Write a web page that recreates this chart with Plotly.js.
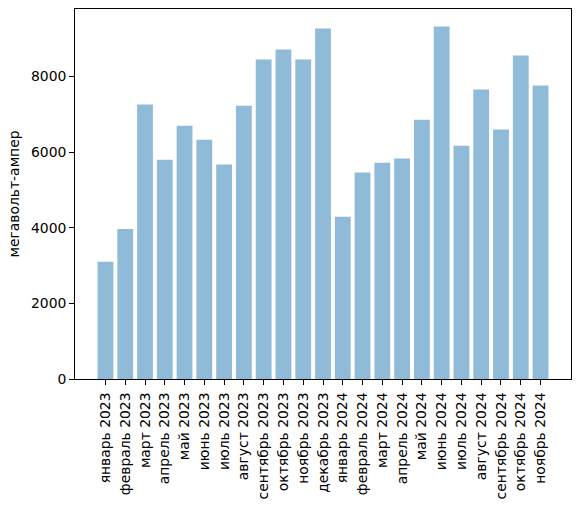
<!DOCTYPE html>
<html>
<head>
<meta charset="utf-8">
<script src="https://cdn.plot.ly/plotly-3.0.1.min.js"></script>
<style>
  html, body { margin: 0; padding: 0; background: #fff; }
  #chart { width: 580px; height: 506px; }
</style>
</head>
<body>
<div id="chart"></div>
<script>
// months, Jan 2023 .. Nov 2024
const months = [
    'январь 2023', 'февраль 2023', 'март 2023', 'апрель 2023', 'май 2023', 'июнь 2023',
    'июль 2023', 'август 2023', 'сентябрь 2023', 'октябрь 2023', 'ноябрь 2023', 'декабрь 2023',
    'январь 2024', 'февраль 2024', 'март 2024', 'апрель 2024', 'май 2024', 'июнь 2024',
    'июль 2024', 'август 2024', 'сентябрь 2024', 'октябрь 2024', 'ноябрь 2024'
];
const power = [
    3100, 3970, 7260, 5800, 6700, 6330,
    5670, 7230, 8450, 8715, 8450, 9270,
    4290, 5460, 5720, 5830, 6860, 9320,
    6170, 7655, 6600, 8555, 7760
];
const yTicks = [0, 2000, 4000, 6000, 8000];
const yLabel = 'мегавольт-ампер';

window.onload = main;

function main() {
    const font = { family: 'DejaVu Sans, sans-serif', size: 13.9, color: '#000' };

    const trace = {
        type: 'bar',
        x: months,
        y: power,
        marker: { color: 'rgba(31,119,180,0.5)', line: { width: 0 } },
        hoverinfo: 'x+y'
    };

    const axisCommon = {
        showline: true,
        linecolor: '#000',
        linewidth: 1,
        mirror: true,
        ticks: 'outside',
        ticklen: 4.9,
        tickwidth: 1,
        tickcolor: '#000',
        showgrid: false,
        zeroline: false,
        tickfont: font
    };

    const layout = {
        width: 580,
        height: 506,
        margin: { l: 75, r: 9, t: 9, b: 127 },
        paper_bgcolor: '#fff',
        plot_bgcolor: '#fff',
        font: font,
        bargap: 0.2,
        showlegend: false,
        xaxis: Object.assign({}, axisCommon, {
            type: 'category',
            range: [-1.54, 22.0 + 1.54],
            tickangle: -90,
            ticklabelstandoff: 2
        }),
        yaxis: Object.assign({}, axisCommon, {
            range: [0, 9786],
            tickvals: yTicks,
            ticktext: yTicks.map(String),
            title: { text: yLabel, font: font, standoff: 8 }
        })
    };

    Plotly.newPlot('chart', [trace], layout, { displayModeBar: false, staticPlot: true });
}
</script>
</body>
</html>
